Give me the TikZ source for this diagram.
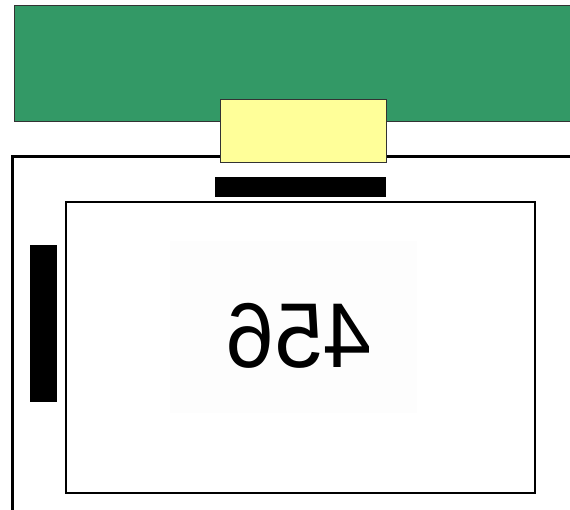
\documentclass[tikz,border=0pt]{standalone}
\usepackage{fontspec}
\setmainfont{Liberation Sans}
\usetikzlibrary{positioning}
\definecolor{pcbgreen}{HTML}{339966}
\definecolor{padyellow}{HTML}{FFFF99}
\definecolor{edgegray}{HTML}{333333}
\definecolor{glarewhite}{HTML}{FDFDFD}
\tikzset{
  boardbox/.style={draw=edgegray, line width=1pt, fill=pcbgreen, anchor=north west, inner sep=0pt},
  padbox/.style={draw=edgegray, line width=1pt, fill=padyellow, anchor=north west, inner sep=0pt},
  framebox/.style={draw=black, line width=3pt, anchor=north west, inner sep=0pt},
  panelbox/.style={draw=black, line width=2pt, fill=white, anchor=north west, inner sep=0pt},
  barbox/.style={draw=none, fill=black, anchor=north west, inner sep=0pt},
  glarebox/.style={draw=none, fill=glarewhite, inner sep=0pt},
  numtext/.style={font=\fontsize{92}{92}\selectfont, xscale=-0.95, inner sep=0pt}}

\begin{document}
\begin{tikzpicture}[x=1pt, y=-1pt]
  \clip (0,0) rectangle (570,509);
  \fill[white] (0,0) rectangle (570,509);
  % board and frame
  \node[boardbox, minimum width=600pt, minimum height=116pt] (board) at (14,5) {};
  \node[framebox, minimum width=600pt, minimum height=400pt] (frame) at (10.5,154.5) {};
  \node[padbox, minimum width=166pt, minimum height=63pt] (pad) at (220,99) {};
  \node[barbox, minimum width=171pt, minimum height=20pt] (topbar) at (215,177) {};
  \node[barbox, minimum width=27pt, minimum height=157pt] (sidebar) at (30,245) {};
  % display panel
  \node[panelbox, minimum width=469pt, minimum height=291pt] (panel) at (65,200.5) {};
  \node[glarebox, minimum width=247pt, minimum height=172pt] (glare) at (293,327) {};
  \node[numtext] (digits) at (299,336) {456};
\end{tikzpicture}
\end{document}
